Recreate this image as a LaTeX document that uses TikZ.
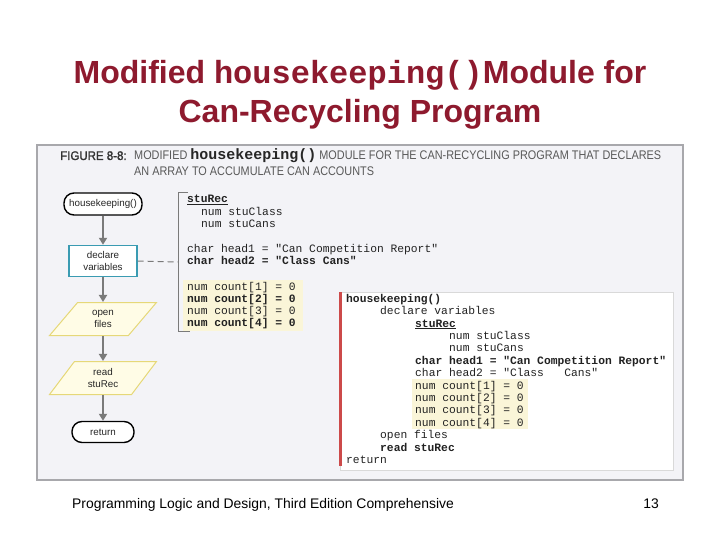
\documentclass[tikz,border=0pt]{standalone}
\usepackage{fontspec}
\setmainfont{Liberation Sans}
\setmonofont{Liberation Mono}
\newfontfamily\condfont[FakeStretch=0.87]{Liberation Sans}
\newfontfamily\condbold[FakeStretch=0.92,FakeBold=1.5]{Liberation Sans}
\usetikzlibrary{arrows.meta,shapes.geometric}
\definecolor{titlered}{HTML}{8E1A2E}
\definecolor{panelfill}{HTML}{F3F3F7}
\definecolor{panelline}{HTML}{A8A8AC}
\definecolor{tealc}{HTML}{3A9BB2}
\definecolor{ioline}{HTML}{E6D878}
\definecolor{iofill}{HTML}{FFFCE6}
\definecolor{hlfill}{HTML}{FAF5D8}
\definecolor{barred}{HTML}{CC4A4A}
\definecolor{arrowgray}{HTML}{7A7A7A}
\definecolor{codec}{HTML}{222222}
\tikzset{
  flowtext/.style={font=\fontsize{9.8}{11.8}\selectfont, text=black!85, align=center},
  term/.style={flowtext, rectangle, rounded corners=10pt, draw=black, line width=1.4pt, fill=white, inner sep=0pt},
  procbox/.style={flowtext, rectangle, draw=tealc, line width=1.4pt, fill=white, minimum width=68pt, minimum height=31pt, inner sep=0pt},
  iobox/.style={flowtext, trapezium, trapezium left angle=55, trapezium right angle=125, trapezium stretches=true, draw=ioline, line width=1pt, fill=iofill, minimum width=107pt, minimum height=33pt, inner sep=0pt},
  flowarrow/.style={draw=arrowgray, line width=1.8pt, -{Triangle[length=7pt,width=8pt]}},
  code/.style={anchor=base west, inner sep=0pt, font=\ttfamily\fontsize{11.3}{12}\selectfont, text=codec},
  codeb/.style={code, font=\ttfamily\bfseries\fontsize{11.3}{12}\selectfont}
}
\begin{document}
\begin{tikzpicture}[x=1pt,y=-1pt]
\path[use as bounding box, fill=white] (0,0) rectangle (720,540);

% title
\node[anchor=base, text=titlered, inner sep=0pt] (t1) at (360,84)
  {\fontsize{32}{36}\selectfont\bfseries Modified \texttt{housekeeping()}Module for};
\node[anchor=base, text=titlered, inner sep=0pt] (t2) at (360,123)
  {\fontsize{32}{36}\selectfont\bfseries Can-Recycling Program};

% panel
\draw[draw=panelline, fill=panelfill, line width=1.2pt] (37,145) rectangle (683,480);

% header
\node[anchor=base west, inner sep=0pt, text=black!80] (fig) at (60,160)
  {\condbold\fontsize{12.5}{14}\selectfont FIGURE 8-8:};
\node[anchor=base west, inner sep=0pt, text=black!65] (h1) at (134,160)
  {\condfont\fontsize{12.5}{14}\selectfont MODIFIED {\ttfamily\bfseries\color{black!85}\fontsize{15}{14}\selectfont housekeeping()} MODULE FOR THE CAN-RECYCLING PROGRAM THAT DECLARES};
\node[anchor=base west, inner sep=0pt, text=black!65] (h2) at (134,176)
  {\condfont\fontsize{12.5}{14}\selectfont AN ARRAY TO ACCUMULATE CAN ACCOUNTS};

% flowchart
\node[term, minimum width=78pt, minimum height=22pt] (hk) at (103,204) {housekeeping()};
\node[procbox] (decl) at (103,261) {declare\\variables};
\node[iobox] (open) at (103,319) {open\\files};
\node[iobox] (read) at (103,378) {read\\stuRec};
\node[term, minimum width=62pt, minimum height=21pt] (ret) at (103,432) {return};

\draw[flowarrow] (hk.south) -- (decl.north);
\draw[flowarrow] (decl.south) -- (open.north);
\draw[flowarrow] (open.south) -- (read.north);
\draw[flowarrow] (read.south) -- (ret.north);

% bracket and dashed link
\coordinate (bt) at (188,193);
\coordinate (bb) at (190,331);
\coordinate (bj) at (178,262);
\draw[draw=arrowgray, line width=1pt] (bt) -- (178,193) -- (178,331) -- (bb);
\draw[draw=arrowgray, line width=1pt, dashed, dash pattern=on 6pt off 4pt] (decl.east) -- (bj);

% code block 1
\fill[hlfill] (183,280) rectangle (303,331);
\node[codeb] (c1) at (187,203) {\underline{stuRec}};
\node[code] (c2) at (201,215) {num stuClass};
\node[code] (c3) at (201,227) {num stuCans};
\node[code] (c4) at (187,252) {char head1 = "Can Competition Report"};
\node[codeb] (c5) at (187,264) {char head2 = "Class Cans"};
\node[code] (c6) at (187,290) {num count[1] = 0};
\node[codeb] (c7) at (187,302) {num count[2] = 0};
\node[code] (c8) at (187,314) {num count[3] = 0};
\node[codeb] (c9) at (187,326) {num count[4] = 0};

% code block 2
\draw[draw=black!15, fill=white, line width=0.8pt] (340,292) rectangle (673,470);
\fill[barred] (338.5,292) rectangle (341.5,466);
\fill[hlfill] (412,379) rectangle (528,429);
\node[codeb] (d1) at (346,302) {housekeeping()};
\node[code] (d2) at (380,314) {declare variables};
\node[codeb] (d3) at (415,327) {\underline{stuRec}};
\node[code] (d4) at (449,339) {num stuClass};
\node[code] (d5) at (449,351) {num stuCans};
\node[codeb] (d6) at (415,364) {char head1 = "Can Competition Report"};
\node[code] (d7) at (415,376) {char head2 = "Class\ \ \ Cans"};
\node[code] (d8) at (415,389) {num count[1] = 0};
\node[code] (d9) at (415,401) {num count[2] = 0};
\node[code] (d10) at (415,413) {num count[3] = 0};
\node[code] (d11) at (415,426) {num count[4] = 0};
\node[code] (d12) at (380,438) {open files};
\node[codeb] (d13) at (380,451) {read stuRec};
\node[code] (d14) at (346,463) {return};

% footer
\node[anchor=base west, inner sep=0pt] (foot) at (72,508)
  {\fontsize{13.9}{16}\selectfont Programming Logic and Design, Third Edition Comprehensive};
\node[anchor=base east, inner sep=0pt] (pg) at (659,508)
  {\fontsize{13.9}{16}\selectfont 13};
\end{tikzpicture}
\end{document}
